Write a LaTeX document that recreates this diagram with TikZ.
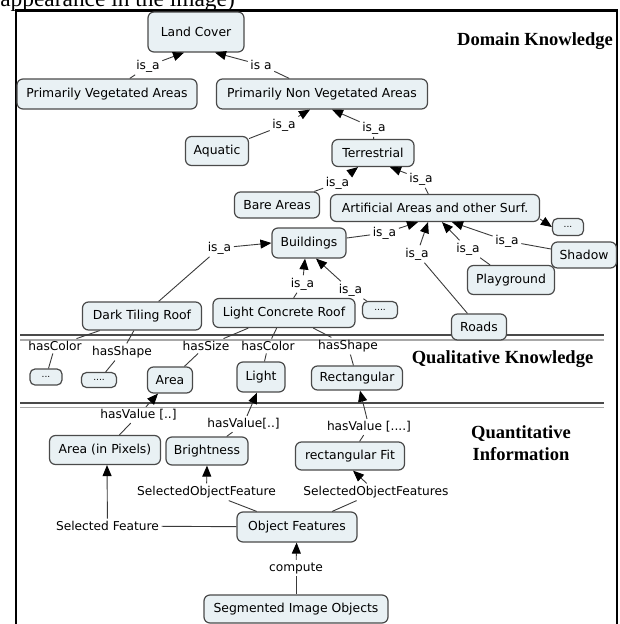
\documentclass[tikz,border=0pt]{standalone}
\usepackage{fontspec}
\setmainfont{DejaVu Sans}
\newfontfamily\seriffont{Liberation Serif}
\usetikzlibrary{arrows.meta}
\definecolor{boxfill}{HTML}{E9F1F4}
\definecolor{boxdraw}{HTML}{4A4A4A}
\definecolor{linec}{HTML}{3A3A3A}
\definecolor{seplight}{HTML}{A8A8A8}
\begin{document}
\begin{tikzpicture}[x=1pt,y=-1pt,
  box/.style={draw=boxdraw, fill=boxfill, rounded corners=6pt, line width=1.2pt,
    font=\fontsize{12.4}{14}\selectfont, inner xsep=2pt, inner ysep=2pt, minimum height=28pt},
  dotbox/.style={box, font=\fontsize{9}{9}\selectfont, inner sep=0pt, rounded corners=5pt, minimum height=16pt},
  lbl/.style={font=\fontsize{12.2}{14}\selectfont, inner sep=2.5pt},
  con/.style={draw=linec, line width=0.9pt},
  arr/.style={con, -{Triangle[length=11pt,width=9pt,color=black]}},
  title/.style={font=\seriffont\bfseries\fontsize{18.5}{22}\selectfont, inner sep=0pt}
]
\useasboundingbox (0,0) rectangle (620,624);
% caption fragment and frame
\node[anchor=base east, inner sep=0pt, font=\seriffont\fontsize{23.4}{26}\selectfont] (cap) at (235,6.5) {appearance in the image)};
\draw[line width=2.5pt] (16,640) -- (16,10.5) -- (617,10.5) -- (617,640);
% separators
\draw[boxdraw, line width=1.8pt] (20,335) -- (604,335);
\draw[seplight, line width=1.2pt] (20,340) -- (604,340);
\draw[boxdraw, line width=1.8pt] (20,403.3) -- (604,403.3);
\draw[seplight, line width=1.2pt] (20,407.5) -- (604,407.5);
% titles
\node[title, anchor=base] (dk) at (535,45) {Domain Knowledge};
\node[title, anchor=base] (qk) at (502.5,363) {Qualitative Knowledge};
\node[title, anchor=north, align=center] (qi) at (521,425.5) {Quantitative\\Information};
% concept boxes
\node[box, minimum width=96pt, minimum height=40pt] (lc) at (196,32) {Land Cover};
\node[box, minimum width=180pt, minimum height=30pt] (pva) at (107,94) {Primarily Vegetated Areas};
\node[box, minimum width=211pt, minimum height=30pt] (pnva) at (322,94) {Primarily Non Vegetated Areas};
\node[box, minimum width=63pt, minimum height=29pt] (aq) at (217,151) {Aquatic};
\node[box, minimum width=82pt, minimum height=27pt] (ter) at (373,153) {Terrestrial};
\node[box, minimum width=85pt, minimum height=26pt] (bare) at (277,205) {Bare Areas};
\node[box, minimum width=209pt, minimum height=27pt] (art) at (435,208) {Artificial Areas and other Surf.};
\node[dotbox, minimum width=31pt, minimum height=17pt] (dotsa) at (568,227) {...};
\node[box, minimum width=74pt, minimum height=30pt] (bld) at (309,243) {Buildings};
\node[box, minimum width=65pt, minimum height=26pt] (shadow) at (584,255) {Shadow};
\node[box, minimum width=87pt, minimum height=29pt] (play) at (511,280) {Playground};
\node[box, minimum width=119pt, minimum height=28pt] (dtr) at (142,316) {Dark Tiling Roof};
\node[box, minimum width=142pt, minimum height=29pt] (lcr) at (284,313) {Light Concrete Roof};
\node[dotbox, minimum width=35pt, minimum height=17pt] (dotsb) at (380,310) {....};
\node[box, minimum width=55pt, minimum height=26pt] (roads) at (479,327) {Roads};
\node[dotbox, minimum width=32pt, minimum height=16pt] (qa) at (46,377) {...};
\node[dotbox, minimum width=35pt, minimum height=15pt] (qb) at (99,380) {....};
\node[box, minimum width=45pt, minimum height=26pt] (area) at (170,380) {Area};
\node[box, minimum width=48pt, minimum height=30pt] (light) at (261,377) {Light};
\node[box, minimum width=91pt, minimum height=24pt] (rect) at (357,378) {Rectangular};
\node[box, minimum width=111pt, minimum height=29pt] (aip) at (105,450) {Area (in Pixels)};
\node[box, minimum width=82pt, minimum height=28pt] (bright) at (207,451) {Brightness};
\node[box, minimum width=109pt, minimum height=28pt] (rfit) at (350,456) {rectangular Fit};
\node[box, minimum width=120pt, minimum height=30pt] (objf) at (297,527) {Object Features};
\node[box, minimum width=184pt, minimum height=28pt] (seg) at (296,609) {Segmented Image Objects};
% linking phrases
\node[lbl] (l1) at (148,66) {is\_a};
\node[lbl] (l2) at (261,65) {is a};
\node[lbl] (l3) at (284,125) {is\_a};
\node[lbl] (l4) at (374,128) {is\_a};
\node[lbl] (l5) at (337.5,183) {is\_a};
\node[lbl] (l6) at (421,179) {is\_a};
\node[lbl] (l7) at (384.5,233) {is\_a};
\node[lbl] (l8) at (417,254) {is\_a};
\node[lbl] (l9) at (468,249) {is\_a};
\node[lbl] (l10) at (507,241) {is\_a};
\node[lbl] (l11) at (219.5,248) {is\_a};
\node[lbl] (l12) at (302.5,284) {is\_a};
\node[lbl] (l13) at (350.5,290) {is\_a};
\node[lbl] (hca) at (55,346) {hasColor};
\node[lbl] (hsa) at (122,352) {hasShape};
\node[lbl] (hsz) at (206,346) {hasSize};
\node[lbl] (hcb) at (268,346) {hasColor};
\node[lbl] (hsb) at (348,346) {hasShape};
\node[lbl] (hva) at (138.5,415) {hasValue [..]};
\node[lbl] (hvb) at (243.5,424) {hasValue[..]};
\node[lbl] (hvc) at (369,427) {hasValue [....]};
\node[lbl] (sof) at (206.5,492) {SelectedObjectFeature};
\node[lbl] (sofs) at (376,492) {SelectedObjectFeatures};
\node[lbl] (sf) at (107.5,526) {Selected Feature};
\node[lbl] (comp) at (296,568) {compute};
% connectors
\draw[con] (pva) -- (l1);  \draw[arr] (l1) -- ([xshift=-12pt]lc.south);
\draw[con] (pnva) -- (l2); \draw[arr] (l2) -- ([xshift=19pt]lc.south);
\draw[con] (aq) -- (l3);   \draw[arr] (l3) -- ([xshift=-12pt]pnva.south);
\draw[con] (ter) -- (l4);  \draw[arr] (l4) -- ([xshift=10pt]pnva.south);
\draw[con] (bare) -- (l5); \draw[arr] (l5) -- ([xshift=-15pt]ter.south);
\draw[con] (art) -- (l6);  \draw[arr] (l6) -- ([xshift=17pt]ter.south);
\draw[arr] ([yshift=3pt]art.south east) -- (dotsa.west);
\draw[con] (bld) -- (l7);  \draw[arr] (l7) -- ([xshift=-17pt]art.south);
\draw[con] (roads) -- (l8); \draw[arr] (l8) -- ([xshift=-7pt]art.south);
\draw[con] (play) -- (l9); \draw[arr] (l9) -- ([xshift=7pt]art.south);
\draw[con] (shadow) -- (l10); \draw[arr] (l10) -- ([xshift=17pt]art.south);
\draw[con] (dtr) -- (l11); \draw[arr] (l11) -- (bld.west);
\draw[con] (lcr) -- (l12); \draw[arr] (l12) -- ([xshift=-4pt]bld.south);
\draw[con] (dotsb) -- (l13); \draw[arr] (l13) -- ([xshift=7pt]bld.south);
\draw[con] (dtr) -- (hca); \draw[con] (hca) -- (qa);
\draw[con] (dtr) -- (hsa); \draw[con] (hsa) -- (qb);
\draw[con] (lcr) -- (hsz); \draw[con] (hsz) -- (area);
\draw[con] (lcr) -- (hcb); \draw[con] (hcb) -- (light);
\draw[con] (lcr) -- (hsb); \draw[con] (hsb) -- (rect);
\draw[con] (aip) -- (hva); \draw[arr] (hva) -- ([xshift=-12pt]area.south);
\draw[con] (bright) -- (hvb); \draw[arr] (hvb) -- ([xshift=-4pt]light.south);
\draw[con] (rfit) -- (hvc); \draw[arr] (hvc) -- ([xshift=3pt]rect.south);
\draw[con] (objf) -- (sof); \draw[arr] (sof) -- (bright.south);
\draw[con] (objf) -- (sofs); \draw[arr] (sofs) -- ([xshift=3pt]rfit.south);
\draw[con] (objf) -- (sf); \draw[arr] (sf) -- ([xshift=2pt]aip.south);
\draw[con] (seg) -- (comp); \draw[arr] (comp) -- (objf);
\end{tikzpicture}
\end{document}
